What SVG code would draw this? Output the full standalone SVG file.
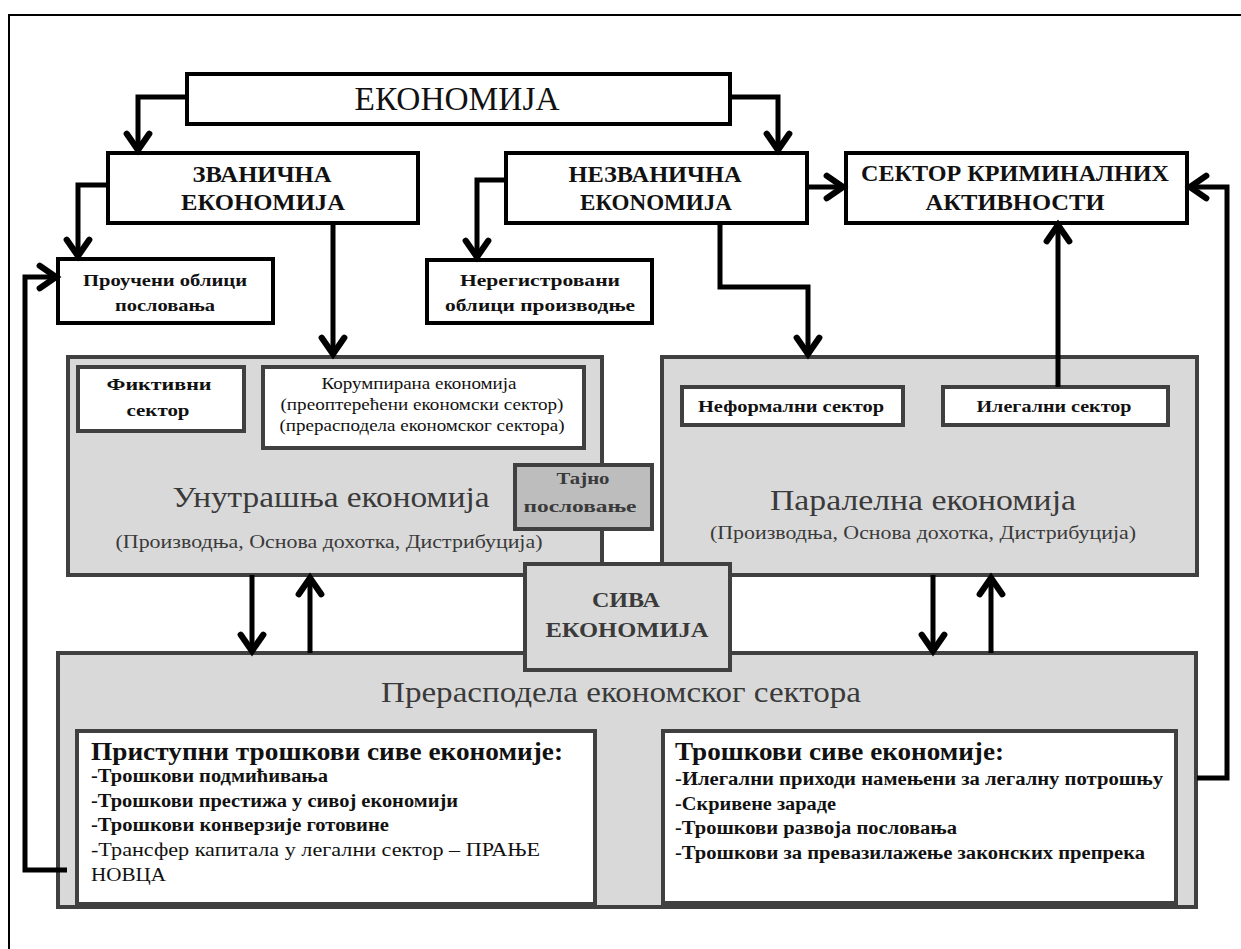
<svg xmlns="http://www.w3.org/2000/svg" width="1241" height="949" viewBox="0 0 1241 949">
  <defs>
    <marker id="arrow" markerUnits="userSpaceOnUse" markerWidth="30" markerHeight="30" viewBox="-16 -12 20 24" refX="0" refY="0" orient="auto">
      <path d="M-13,-9 L0,0 L-13,9" fill="none" stroke="#000" stroke-width="5" stroke-linejoin="miter" stroke-linecap="round"/>
    </marker>
    <style>
      text { font-family: "Liberation Serif", "Times New Roman", "DejaVu Serif", serif; }
      .frame { fill: none; stroke: #000; stroke-width: 2; }
      .topbox { fill: #fff; stroke: #000; stroke-width: 4; }
      .graybox { fill: #d9d9d9; stroke: #404040; stroke-width: 4; }
      .innerbox { fill: #fff; stroke: #404040; stroke-width: 4; }
      .secret { fill: #bdbdbd; stroke: #404040; stroke-width: 4; }
      .conn { fill: none; stroke: #000; stroke-width: 5; stroke-linejoin: miter; marker-end: url(#arrow); }
      .c { text-anchor: middle; }
      .b { font-weight: bold; }
      .dark { fill: #111; }
      .mid { fill: #3a3a3a; }
    </style>
  </defs>

  <!-- page frame -->
  <rect class="frame" x="9" y="15" width="1250" height="950"/>

  <!-- gray sector panels (drawn first so connectors sit on top) -->
  <g id="unutrasnja">
    <rect class="graybox" x="68" y="357" width="534" height="218"/>
    <text class="c mid" x="331" y="507" font-size="30" textLength="317" lengthAdjust="spacingAndGlyphs">Унутрашња економија</text>
    <text class="c mid" x="329" y="548" font-size="18" textLength="427" lengthAdjust="spacingAndGlyphs">(Производња, Основа дохотка, Дистрибуција)</text>
  </g>
  <g id="fiktivni">
    <rect class="innerbox" x="78" y="367" width="166" height="64"/>
    <text class="c b dark" x="159" y="390" font-size="17" textLength="105" lengthAdjust="spacingAndGlyphs">Фиктивни</text>
    <text class="c b dark" x="158" y="416" font-size="17" textLength="63" lengthAdjust="spacingAndGlyphs">сектор</text>
  </g>
  <g id="korumpirana">
    <rect class="innerbox" x="263" y="367" width="321" height="81"/>
    <text class="c dark" x="419" y="389" font-size="17" textLength="195" lengthAdjust="spacingAndGlyphs">Корумпирана економија</text>
    <text class="c dark" x="422" y="410" font-size="17" textLength="283" lengthAdjust="spacingAndGlyphs">(преоптерећени економски сектор)</text>
    <text class="c dark" x="422" y="431" font-size="17" textLength="285" lengthAdjust="spacingAndGlyphs">(прерасподела економског сектора)</text>
  </g>

  <g id="paralelna">
    <rect class="graybox" x="662" y="357" width="535" height="218"/>
    <text class="c mid" x="923" y="510" font-size="30" textLength="306" lengthAdjust="spacingAndGlyphs">Паралелна економија</text>
    <text class="c mid" x="923" y="539" font-size="18" textLength="426" lengthAdjust="spacingAndGlyphs">(Производња, Основа дохотка, Дистрибуција)</text>
  </g>
  <g id="neformalni">
    <rect class="innerbox" x="682" y="387" width="221" height="38"/>
    <text class="c b dark" x="791" y="412" font-size="17" textLength="186" lengthAdjust="spacingAndGlyphs">Неформални сектор</text>
  </g>
  <g id="ilegalni">
    <rect class="innerbox" x="943" y="387" width="225" height="38"/>
    <text class="c b dark" x="1054" y="412" font-size="17" textLength="155" lengthAdjust="spacingAndGlyphs">Илегални сектор</text>
  </g>

  <g id="tajno">
    <rect class="secret" x="515" y="465" width="137" height="64"/>
    <text class="c b mid" x="583" y="484" font-size="17" textLength="53" lengthAdjust="spacingAndGlyphs">Тајно</text>
    <text class="c b mid" x="580" y="512" font-size="17" textLength="113" lengthAdjust="spacingAndGlyphs">пословање</text>
  </g>

  <g id="preraspodela">
    <rect class="graybox" x="58" y="653" width="1138" height="254"/>
    <text class="c mid" x="621" y="702" font-size="29" textLength="480" lengthAdjust="spacingAndGlyphs">Прерасподела економског сектора</text>
  </g>
  <g id="pristupni">
    <rect class="innerbox" x="77" y="731" width="518" height="173"/>
    <text class="b dark" x="91" y="760" font-size="25" textLength="472" lengthAdjust="spacingAndGlyphs">Приступни трошкови сиве економије:</text>
    <text class="b dark" x="91" y="782" font-size="18" textLength="237" lengthAdjust="spacingAndGlyphs">-Трошкови подмићивања</text>
    <text class="b dark" x="91" y="807" font-size="18" textLength="367" lengthAdjust="spacingAndGlyphs">-Трошкови престижа у сивој економији</text>
    <text class="b dark" x="91" y="831" font-size="18" textLength="298" lengthAdjust="spacingAndGlyphs">-Трошкови конверзије готовине</text>
    <text class="dark" x="91" y="856" font-size="19" textLength="449" lengthAdjust="spacingAndGlyphs">-Трансфер капитала у легални сектор – ПРАЊЕ</text>
    <text class="dark" x="91" y="881" font-size="19" textLength="75" lengthAdjust="spacingAndGlyphs">НОВЦА</text>
  </g>
  <g id="troskovi">
    <rect class="innerbox" x="663" y="731" width="513" height="172"/>
    <text class="b dark" x="675" y="760" font-size="25" textLength="329" lengthAdjust="spacingAndGlyphs">Трошкови сиве економије:</text>
    <text class="b dark" x="675" y="785" font-size="18" textLength="488" lengthAdjust="spacingAndGlyphs">-Илегални приходи намењени за легалну потрошњу</text>
    <text class="b dark" x="675" y="810" font-size="18" textLength="161" lengthAdjust="spacingAndGlyphs">-Скривене зараде</text>
    <text class="b dark" x="675" y="834" font-size="18" textLength="282" lengthAdjust="spacingAndGlyphs">-Трошкови развоја пословања</text>
    <text class="b dark" x="675" y="859" font-size="18" textLength="470" lengthAdjust="spacingAndGlyphs">-Трошкови за превазилажење законских препрека</text>
  </g>

  <g id="siva">
    <rect class="graybox" x="525" y="564" width="205" height="106"/>
    <text class="c b mid" x="626" y="607" font-size="22" textLength="68" lengthAdjust="spacingAndGlyphs">СИВА</text>
    <text class="c b mid" x="627" y="637" font-size="22" textLength="163" lengthAdjust="spacingAndGlyphs">ЕКОНОМИЈА</text>
  </g>

  <!-- upper hierarchy -->
  <g id="ekonomija">
    <rect class="topbox" x="187" y="74" width="543" height="50"/>
    <text class="c dark" x="457" y="110" font-size="34" textLength="205" lengthAdjust="spacingAndGlyphs">ЕКОНОМИЈА</text>
  </g>
  <g id="zvanicna">
    <rect class="topbox" x="108" y="153" width="310" height="70"/>
    <text class="c b dark" x="262" y="182" font-size="23" textLength="139" lengthAdjust="spacingAndGlyphs">ЗВАНИЧНА</text>
    <text class="c b dark" x="263" y="210" font-size="23" textLength="164" lengthAdjust="spacingAndGlyphs">ЕКОНОМИЈА</text>
  </g>
  <g id="nezvanicna">
    <rect class="topbox" x="506" y="153" width="301" height="70"/>
    <text class="c b dark" x="655" y="182" font-size="23" textLength="173" lengthAdjust="spacingAndGlyphs">НЕЗВАНИЧНА</text>
    <text class="c b dark" x="656" y="210" font-size="23" textLength="152" lengthAdjust="spacingAndGlyphs">ЕКОNОМИЈА</text>
  </g>
  <g id="kriminal">
    <rect class="topbox" x="846" y="153" width="341" height="70"/>
    <text class="c b dark" x="1015" y="181" font-size="23" textLength="308" lengthAdjust="spacingAndGlyphs">СЕКТОР КРИМИНАЛНИХ</text>
    <text class="c b dark" x="1015" y="210" font-size="23" textLength="179" lengthAdjust="spacingAndGlyphs">АКТИВНОСТИ</text>
  </g>
  <g id="prouceni">
    <rect class="topbox" x="58" y="259" width="215" height="64"/>
    <text class="c b dark" x="165" y="286" font-size="17" textLength="164" lengthAdjust="spacingAndGlyphs">Проучени облици</text>
    <text class="c b dark" x="165" y="311" font-size="17" textLength="100" lengthAdjust="spacingAndGlyphs">пословања</text>
  </g>
  <g id="neregistrovani">
    <rect class="topbox" x="427" y="260" width="225" height="63"/>
    <text class="c b dark" x="540" y="286" font-size="17" textLength="160" lengthAdjust="spacingAndGlyphs">Нерегистровани</text>
    <text class="c b dark" x="540" y="311" font-size="17" textLength="190" lengthAdjust="spacingAndGlyphs">облици производње</text>
  </g>

  <!-- connectors -->
  <g id="connectors">
    <path class="conn" d="M187,97 H138 V150"/>
    <path class="conn" d="M730,97 H778 V150"/>
    <path class="conn" d="M108,185 H78 V256"/>
    <path class="conn" d="M333,223 V354"/>
    <path class="conn" d="M506,180 H477 V257"/>
    <path class="conn" d="M807,187 H843"/>
    <path class="conn" d="M720,223 V287 H808 V354"/>
    <path class="conn" d="M1058,387 V225"/>
    <path class="conn" d="M252,575 V651"/>
    <path class="conn" d="M310,653 V578"/>
    <path class="conn" d="M933,575 V651"/>
    <path class="conn" d="M991,653 V578"/>
    <path class="conn" d="M67,870 H25 V277 H56"/>
    <path class="conn" d="M1197,778 H1227 V187 H1190"/>
  </g>
</svg>
